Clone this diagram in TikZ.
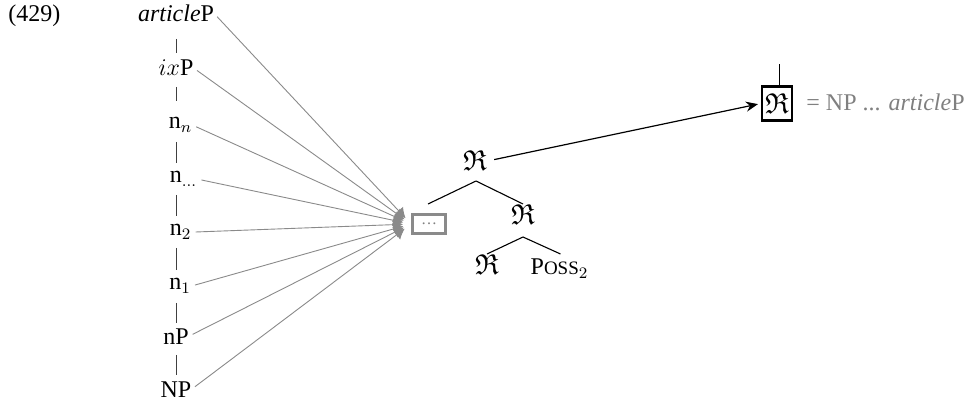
\documentclass[tikz,border=0pt]{standalone}
\usepackage{amsmath,amssymb}
\usepackage{fontspec}
\setmainfont{Liberation Serif}
\usetikzlibrary{arrows.meta,calc}
\definecolor{fang}{HTML}{8A8A8A}
\definecolor{txtg}{HTML}{808080}
\newcommand{\frR}{\ensuremath{\mathfrak{R}}}
\begin{document}
\begin{tikzpicture}[x=0.5pt,y=-0.5pt,
  lab/.style={font=\fontsize{12}{14}\selectfont, inner sep=0pt, anchor=base},
  frak/.style={font=\fontsize{14.4}{16}\selectfont, inner sep=0pt, anchor=base},
  fanline/.style={draw=fang, line width=0.45pt, shorten <=2pt, shorten >=4pt,
    -{Latex[length=5pt,width=6pt,fill=fang]}},
  colbar/.style={draw=black!75, line width=0.5pt},
  treeline/.style={draw=black, line width=0.55pt},
  grbox/.style={draw=fang, line width=1.5pt, minimum width=16.5pt, minimum height=9.5pt,
    inner sep=0pt, text=txtg, font=\fontsize{8}{9}\selectfont},
  bkbox/.style={draw=black, line width=1.1pt, minimum width=15pt, minimum height=17pt,
    inner sep=0pt, font=\fontsize{14.4}{16}\selectfont}]
\useasboundingbox (0,0) rectangle (968,400);

\node[lab, anchor=base west] (ex) at (8,22) {(429)};
\node[lab] (artP)  at (176,22)    {\textit{article}P};
\node[lab] (ixP)   at (176,76)    {$ix$P};
\node[lab] (nn)    at (180.5,129) {n$_n$};
\node[lab] (ndots) at (183.5,183) {n$_{\ldots}$};
\node[lab] (n2)    at (180.5,236) {n$_2$};
\node[lab] (n1)    at (180,290)   {n$_1$};
\node[lab] (nP)    at (176,344)   {nP};
\node[lab] (NP)    at (176,397)   {NP};

\coordinate (col) at (176,0);
\foreach \a/\b/\s/\e in {artP/ixP/17/23, ixP/nn/11/28, nn/ndots/13/20, ndots/n2/12/20,
    n2/n1/12/20, n1/nP/13/21, nP/NP/11/22}
  \draw[colbar] ($(\a.base -| col)+(0,\s)$) -- ($(\b.base -| col)+(0,-\e)$);

\node[grbox] (dots) at (429,224) {\raisebox{0.2ex}{\ldots}};

\foreach \a in {artP, ixP, nn, ndots, n2, n1, nP, NP}
  \draw[fanline] (\a.east) -- (dots.west);

\node[frak] (root) at (475,171) {\frR};
\node[frak] (rc)   at (523,225) {\frR};
\node[frak] (gl)   at (487,275) {\frR};
\node[lab]  (gr)   at (559.5,275) {P{\fontsize{9.5}{11}\selectfont OSS}$_2$};

\draw[treeline] ($(root.base)+(1,10)$) -- ($(dots.north)+(-1,-9)$);
\draw[treeline] ($(root.base)+(1,10)$) -- ($(rc.base)+(0,-21)$);
\draw[treeline] ($(rc.base)+(0,12)$) -- ($(gl.base)+(0,-21)$);
\draw[treeline] ($(rc.base)+(0,12)$) -- ($(gr.base)+(1,-21)$);

\node[bkbox] (Rb) at (777,103.5) {\frR};
\coordinate (Rtop) at (779,64);
\draw[line width=0.5pt] (Rb.north -| Rtop) -- (Rtop);

\draw[line width=0.6pt, shorten <=3.5pt, shorten >=1.5pt, -{Stealth[length=6pt,width=5pt]}]
  (root.east) -- (Rb.west);

\node[lab, anchor=base west, text=txtg] (eq) at (806,111) {= NP ... \textit{article}P};
\end{tikzpicture}
\end{document}
